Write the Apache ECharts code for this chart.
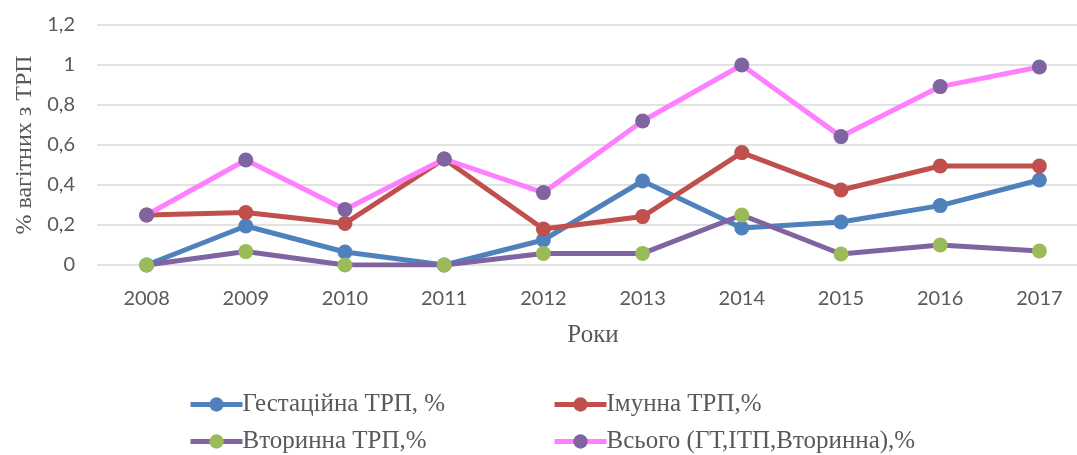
<!DOCTYPE html>
<html><head><meta charset="utf-8">
<script src="https://cdn.jsdelivr.net/npm/echarts@6/dist/echarts.min.js"></script>
<style>html,body{margin:0;padding:0;background:#fff}#c{width:1077px;height:455px}</style>
</head><body><div id="c"></div>
<script>
const years = ['2008','2009','2010','2011','2012','2013','2014','2015','2016','2017'];
const gestational = [0, 0.195, 0.065, 0, 0.125, 0.42, 0.185, 0.215, 0.297, 0.425];
const immune = [0.25, 0.262, 0.208, 0.53, 0.18, 0.242, 0.562, 0.375, 0.495, 0.495];
const secondary = [0, 0.067, 0, 0, 0.058, 0.058, 0.25, 0.055, 0.1, 0.07];
const total = [0.25, 0.525, 0.278, 0.53, 0.362, 0.72, 1.0, 0.642, 0.892, 0.99];
const names = ['Гестаційна ТРП, %', 'Імунна ТРП,%', 'Вторинна ТРП,%', 'Всього (ГТ,ІТП,Вторинна),%'];

const chart = echarts.init(document.getElementById('c'), null, {renderer:'canvas'});
const serif = 'Liberation Serif';
const sans = 'Lato';
function mk(name, data, lineColor, markColor){
  return {name, type:'line', data, symbol:'circle', symbolSize:15,
    lineStyle:{color:lineColor, width:5}, itemStyle:{color:markColor},
    emphasis:{disabled:true}, animation:false};
}
function lg(name, left, top){
  return {left, top, data:[name], itemWidth:52, itemHeight:18, itemGap:0,
    lineStyle:{width:5}, selectedMode:false,
    textStyle:{fontFamily:serif, fontSize:25, color:'#595959', padding:[0,0,0,-5]}};
}
chart.setOption({
  animation:false,
  grid:{left:97, top:25, width:992, height:240, outerBoundsMode:'none', containLabel:false},
  xAxis:{type:'category', data:years, boundaryGap:true,
    axisLine:{show:false}, axisTick:{show:false},
    axisLabel:{fontFamily:sans, fontSize:20, color:'#595959', margin:24},
    name:'Роки', nameLocation:'middle', nameGap:58,
    nameTextStyle:{fontFamily:serif, fontSize:25, color:'#595959'}},
  yAxis:{type:'value', min:0, max:1.2, interval:0.2,
    axisLine:{show:false}, axisTick:{show:false},
    splitLine:{lineStyle:{color:'#d9d9d9', width:1.5}},
    axisLabel:{fontFamily:sans, fontSize:20, color:'#595959', margin:22,
      formatter:v=>String(Math.round(v*10)/10).replace('.',',')},
    name:'% вагітних з ТРП', nameLocation:'middle', nameGap:44, nameRotate:90,
    nameTextStyle:{fontFamily:serif, fontSize:24, color:'#595959'}},
  legend:[
    lg(names[0], 183, 387),
    lg(names[1], 547, 387),
    lg(names[2], 183, 424),
    lg(names[3], 547, 424)
  ],
  series:[
    mk(names[0], gestational, '#4f81bd', '#4f81bd'),
    mk(names[1], immune, '#c0504d', '#c0504d'),
    mk(names[2], secondary, '#8064a2', '#9bbb59'),
    mk(names[3], total, '#ff80ff', '#8064a2')
  ]
});
</script></body></html>
